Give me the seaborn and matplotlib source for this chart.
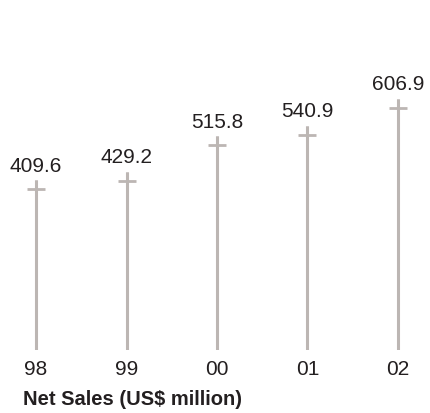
import numpy as np
import pandas as pd
import matplotlib
matplotlib.use("Agg")
import matplotlib.pyplot as plt
from matplotlib.path import Path
import seaborn as sns

years = ['98', '99', '00', '01', '02']
net_sales = [409.6, 429.2, 515.8, 540.9, 606.9]

stem_color = '#bcb6b3'
text_color = '#231f20'

sns.set_style('white')
plt.rcParams['font.family'] = ['Liberation Sans', 'DejaVu Sans']

df = pd.DataFrame({'Year': years, 'Sales': net_sales})
df['pos'] = np.arange(len(df))

fig = plt.figure(figsize=(4.30, 4.13), dpi=100)
ax = fig.add_axes([0, 0.1525, 1, 0.702])

# stems
ax.vlines(df['pos'], 0, df['Sales'], color=stem_color, lw=2.2)

# crossbar a little under the top of each stem
cross = Path([(-1, -1), (1, -1), (0, 0), (0, -1)],
             [Path.MOVETO, Path.LINETO, Path.MOVETO, Path.LINETO])
sns.scatterplot(data=df, x='pos', y='Sales', marker=cross, s=13 ** 2,
                color=stem_color, edgecolor=stem_color, linewidth=2,
                ax=ax, legend=False)

for i, v in enumerate(net_sales):
    ax.annotate(f'{v:.1f}', (i, v), xytext=(0, 3.5), textcoords='offset points',
                ha='center', va='bottom', fontsize=15, color=text_color)

ax.set_xlim(-0.398, 4.354)
ax.set_ylim(0, 700)
ax.set_xticks(df['pos'], years)
ax.set_yticks([])
ax.set_xlabel('')
ax.set_ylabel('')
ax.tick_params(axis='x', length=0, pad=7, labelsize=15, labelcolor=text_color)
sns.despine(ax=ax, left=True, bottom=True)

fig.text(0.053, 0.032, 'Net Sales (US$ million)', fontsize=14.5,
         fontweight='bold', color=text_color, ha='left', va='center')

fig.savefig('out.png', dpi=100)
